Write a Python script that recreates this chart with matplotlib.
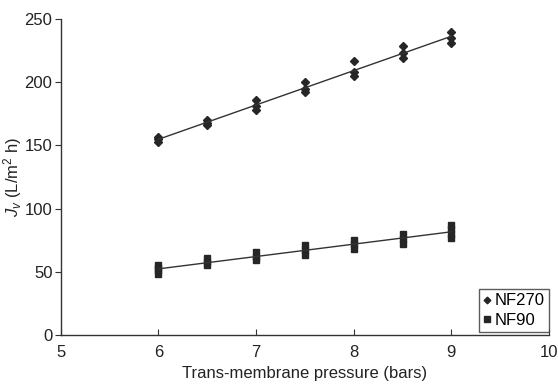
import matplotlib
matplotlib.use("Agg")
import matplotlib.pyplot as plt
import numpy as np

plt.rcParams['font.family'] = ['Liberation Sans', 'DejaVu Sans']
plt.rcParams['mathtext.fontset'] = 'custom'
plt.rcParams['mathtext.rm'] = 'Liberation Sans'
plt.rcParams['mathtext.it'] = 'Liberation Sans:italic'

# Data
pressure = [6, 6.5, 7, 7.5, 8, 8.5, 9]
nf270_values = [
    [153, 155, 157],
    [166, 168, 170],
    [178, 181, 186],
    [192, 195, 200],
    [205, 208, 217],
    [219, 223, 229],
    [231, 235, 240],
]
nf90_values = [
    [48, 51, 53, 55],
    [55, 58, 61],
    [59, 62, 66],
    [63, 67, 71],
    [68, 72, 75],
    [72, 76, 80],
    [77, 80, 84, 87],
]
x_ticks = [5, 6, 7, 8, 9, 10]
y_ticks = [0, 50, 100, 150, 200, 250]

fig = plt.figure(figsize=(5.58, 3.89), dpi=100)
ax = fig.add_axes([0.109, 0.139, 0.875, 0.812])

mcol = '#262626'
def flatten(xs, vals):
    px, py = [], []
    for x, vs in zip(xs, vals):
        for v in vs:
            px.append(x); py.append(v)
    return np.array(px, float), np.array(py, float)

x1, y1 = flatten(pressure, nf270_values)
x2, y2 = flatten(pressure, nf90_values)

ax.plot(x1, y1, linestyle='none', marker='D', markersize=4.5, color=mcol, label='NF270')
ax.plot(x2, y2, linestyle='none', marker='s', markersize=5, color=mcol, label='NF90')

xl = np.array([min(pressure), max(pressure)])
for xx, yy in ((x1, y1), (x2, y2)):
    p = np.polyfit(xx, yy, 1)
    ax.plot(xl, np.polyval(p, xl), color='#333333', lw=1.0)

ax.set_xlim(5, 10)
ax.set_ylim(0, 250)
ax.set_xticks(x_ticks)
ax.set_yticks(y_ticks)
for s in ('top', 'right'):
    ax.spines[s].set_visible(False)
for s in ('left', 'bottom'):
    ax.spines[s].set_color('#333333')
    ax.spines[s].set_linewidth(1.0)
ax.tick_params(axis='y', direction='out', length=4, labelsize=12, pad=2,
               colors='#333333', labelcolor='#222222')
ax.tick_params(axis='x', direction='in', length=4, labelsize=12, pad=7,
               colors='#333333', labelcolor='#222222')

ax.set_xlabel('Trans-membrane pressure (bars)', fontsize=12, color='#222222', labelpad=4.5)
ax.set_ylabel('$J_v$ (L/m$^2$ h)', fontsize=12, color='#222222', labelpad=0.5)

leg = ax.legend(loc='lower right', bbox_to_anchor=(1.0, 0.01), frameon=True, fancybox=False,
                edgecolor='#333333', fontsize=12, handlelength=0.5, handletextpad=0.2,
                borderpad=0.25, labelspacing=0.25, markerscale=0.75, borderaxespad=0.0)
leg.get_frame().set_linewidth(1.0)

fig.savefig('out.png', dpi=100)
